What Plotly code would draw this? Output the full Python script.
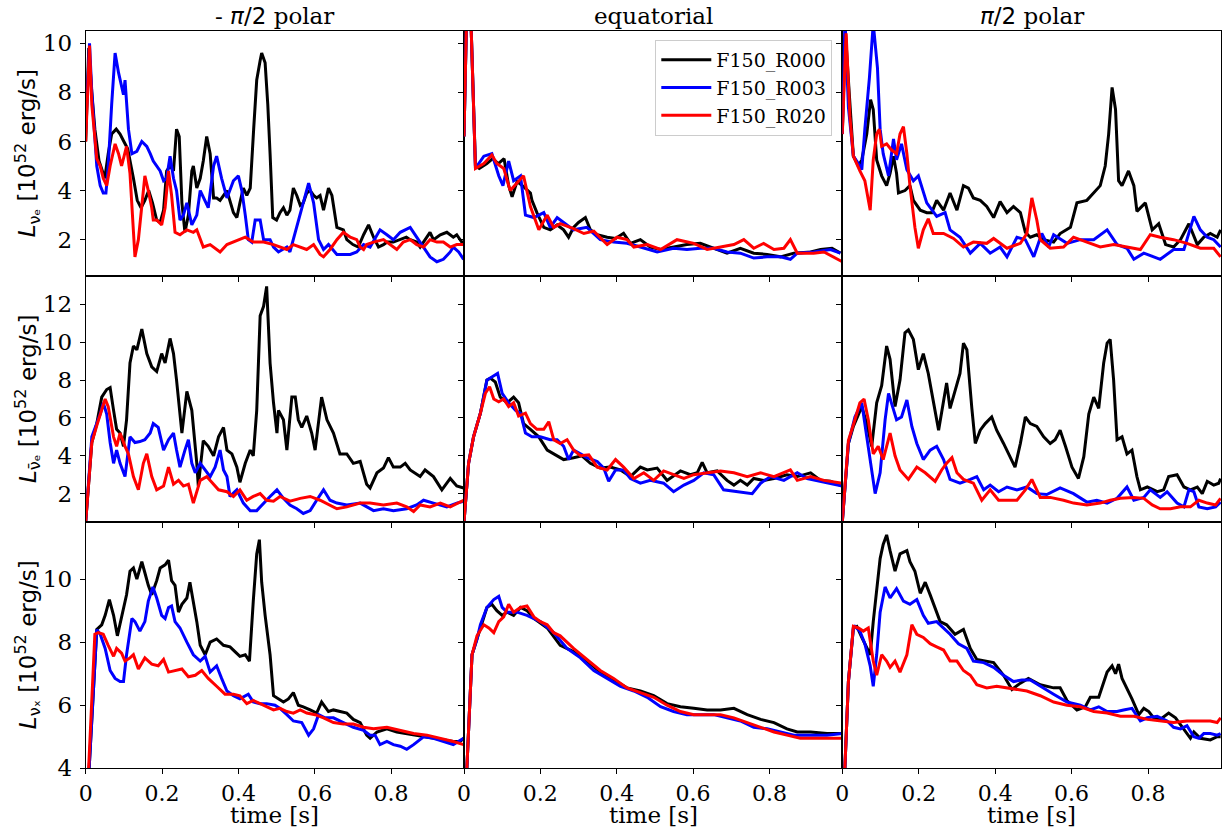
import plotly.graph_objects as go

# ---------------- data: (time [s], luminosity [1e52 erg/s]) ----------------
# Row 1: electron neutrinos
nue_S_R000 = [(0,6.0),(0.008,9.8),(0.016,8.0),(0.024,6.5),(0.035,5.2),(0.05,4.5),(0.059,5.5),(0.068,6.3),(0.08,6.5),(0.09,6.3),(0.1,6.0),(0.11,5.7),(0.125,4.5),(0.135,3.6),(0.145,3.3),(0.155,3.6),(0.165,4.0),(0.175,3.5),(0.186,2.8),(0.195,2.7),(0.204,3.2),(0.212,4.8),(0.221,5.0),(0.23,4.8),(0.238,6.5),(0.245,6.2),(0.252,3.5),(0.26,2.3),(0.269,3.0),(0.278,4.8),(0.282,5.0),(0.291,4.1),(0.3,4.5),(0.308,5.2),(0.317,6.2),(0.326,5.5),(0.335,3.7),(0.343,3.7),(0.352,3.6),(0.37,4.0),(0.387,3.1),(0.396,2.9),(0.404,3.5),(0.413,4.1),(0.422,3.8),(0.431,4.1),(0.44,6.5),(0.448,8.5),(0.457,9.3),(0.461,9.6),(0.47,9.2),(0.477,7.5),(0.483,5.5),(0.49,2.9),(0.5,2.8),(0.509,3.1),(0.518,3.3),(0.527,3.0),(0.535,3.2),(0.544,4.1),(0.553,3.8),(0.562,3.4),(0.57,3.5),(0.579,3.9),(0.588,4.0),(0.597,3.8),(0.605,3.7),(0.614,3.8),(0.623,3.2),(0.636,4.1),(0.645,3.8),(0.658,2.5),(0.675,2.4),(0.684,2.0),(0.7,1.8),(0.714,1.7),(0.728,2.2),(0.741,2.6),(0.754,2.1),(0.767,1.7),(0.78,1.8),(0.79,1.9),(0.806,1.9),(0.824,2.0),(0.84,2.1),(0.85,2.0),(0.867,1.9),(0.876,1.7),(0.89,2.0),(0.902,2.3),(0.911,2.0),(0.929,2.2),(0.946,2.3),(0.963,2.1),(0.972,2.2),(0.985,1.9),(0.99,1.9)]
nue_S_R003 = [(0,6.5),(0.01,10.0),(0.016,8.0),(0.029,5.0),(0.038,4.2),(0.046,3.9),(0.053,3.9),(0.059,5.0),(0.068,7.5),(0.077,9.6),(0.086,8.8),(0.094,8.2),(0.099,7.9),(0.103,8.5),(0.112,6.5),(0.121,5.5),(0.134,5.6),(0.147,6.0),(0.16,5.8),(0.169,5.5),(0.177,5.2),(0.195,4.8),(0.204,4.4),(0.212,4.5),(0.221,5.4),(0.23,4.5),(0.238,4.0),(0.247,2.8),(0.256,3.0),(0.265,3.5),(0.278,2.6),(0.291,3.0),(0.3,4.0),(0.321,3.3),(0.335,5.0),(0.343,5.4),(0.356,4.5),(0.37,3.7),(0.387,4.4),(0.4,4.6),(0.409,4.0),(0.418,3.0),(0.426,2.0),(0.435,1.9),(0.444,2.8),(0.457,2.8),(0.466,2.0),(0.483,2.0),(0.492,1.7),(0.505,1.5),(0.518,1.6),(0.527,1.7),(0.535,1.5),(0.553,2.5),(0.57,3.5),(0.584,4.3),(0.597,3.5),(0.61,2.0),(0.623,1.6),(0.636,1.8),(0.658,1.4),(0.693,1.4),(0.71,1.5),(0.728,1.8),(0.745,1.7),(0.771,2.4),(0.789,2.2),(0.806,2.0),(0.824,2.3),(0.85,2.5),(0.867,2.1),(0.88,1.8),(0.902,1.3),(0.92,1.1),(0.937,1.2),(0.955,1.5),(0.963,1.7),(0.977,1.5),(0.99,1.2)]
nue_S_R020 = [(0,6.0),(0.01,9.9),(0.016,7.5),(0.029,5.3),(0.038,5.0),(0.046,4.5),(0.055,4.2),(0.064,5.0),(0.077,5.9),(0.086,5.5),(0.094,5.0),(0.107,5.8),(0.116,4.7),(0.125,2.0),(0.129,1.3),(0.138,2.0),(0.147,3.5),(0.155,4.6),(0.164,4.0),(0.173,3.3),(0.177,2.8),(0.186,2.8),(0.199,2.6),(0.208,3.3),(0.217,4.8),(0.225,3.8),(0.234,2.3),(0.247,2.2),(0.265,2.4),(0.282,2.3),(0.291,2.4),(0.3,2.0),(0.308,1.7),(0.326,1.8),(0.343,1.6),(0.352,1.5),(0.37,1.8),(0.387,1.9),(0.404,2.0),(0.418,2.1),(0.439,1.9),(0.466,1.9),(0.492,1.8),(0.509,1.7),(0.527,1.6),(0.544,1.8),(0.562,1.7),(0.579,1.6),(0.597,1.8),(0.614,1.4),(0.623,1.3),(0.64,1.6),(0.658,2.0),(0.675,2.3),(0.693,2.1),(0.71,2.0),(0.719,1.7),(0.728,1.6),(0.736,1.8),(0.754,1.9),(0.78,2.0),(0.798,1.8),(0.815,1.6),(0.832,1.9),(0.85,2.0),(0.867,1.8),(0.885,1.7),(0.902,2.0),(0.92,1.9),(0.937,1.9),(0.955,1.7),(0.972,1.8),(0.99,1.8)]

nue_E_R000 = [(0,6.2),(0.008,12.0),(0.018,11.0),(0.025,7.5),(0.03,5.0),(0.04,4.9),(0.06,5.1),(0.075,5.3),(0.09,5.1),(0.105,5.3),(0.117,4.2),(0.126,3.75),(0.139,4.37),(0.156,4.16),(0.174,3.9),(0.178,3.6),(0.191,3.1),(0.209,2.5),(0.226,2.4),(0.244,2.6),(0.261,2.4),(0.274,2.1),(0.287,2.5),(0.3,2.7),(0.318,2.9),(0.331,2.4),(0.349,2.2),(0.375,2.1),(0.397,2.05),(0.418,2.26),(0.436,1.85),(0.462,2.0),(0.488,1.7),(0.515,1.6),(0.549,1.7),(0.584,1.8),(0.619,1.85),(0.654,1.65),(0.689,1.45),(0.724,1.65),(0.759,1.45),(0.794,1.4),(0.829,1.3),(0.864,1.45),(0.908,1.5),(0.934,1.6),(0.964,1.65),(0.986,1.45)]
nue_E_R003 = [(0,6.2),(0.008,12.0),(0.018,11.0),(0.025,7.5),(0.03,4.9),(0.052,5.4),(0.073,5.5),(0.091,4.6),(0.102,4.2),(0.117,5.2),(0.13,4.4),(0.148,4.6),(0.161,3.0),(0.183,2.9),(0.209,3.1),(0.226,2.5),(0.244,2.9),(0.261,2.7),(0.287,2.4),(0.322,2.5),(0.357,2.0),(0.392,1.9),(0.427,1.85),(0.462,1.7),(0.506,1.5),(0.549,1.65),(0.584,1.6),(0.619,1.65),(0.654,1.65),(0.689,1.5),(0.724,1.45),(0.759,1.25),(0.794,1.3),(0.829,1.3),(0.855,1.2),(0.873,1.45),(0.916,1.5),(0.96,1.6),(0.986,1.45)]
nue_E_R020 = [(0,6.2),(0.008,12.0),(0.018,11.0),(0.025,7.5),(0.03,4.9),(0.052,5.1),(0.073,5.45),(0.086,5.1),(0.104,4.9),(0.121,4.0),(0.139,4.3),(0.156,4.6),(0.174,3.35),(0.196,2.4),(0.218,3.0),(0.235,2.5),(0.252,2.65),(0.287,2.45),(0.314,2.25),(0.34,2.35),(0.375,1.8),(0.401,2.1),(0.427,2.0),(0.445,1.7),(0.48,1.8),(0.515,1.6),(0.558,2.0),(0.602,1.85),(0.637,1.6),(0.672,1.7),(0.707,1.8),(0.733,2.0),(0.759,1.65),(0.785,1.85),(0.812,1.6),(0.838,1.65),(0.855,2.0),(0.873,1.45),(0.916,1.45),(0.943,1.5),(0.969,1.3),(0.991,1.1)]

nue_N_R000 = [(0,6.3),(0.008,10.5),(0.018,8.0),(0.029,5.4),(0.042,5.0),(0.051,5.25),(0.064,6.3),(0.074,7.7),(0.081,7.3),(0.09,5.25),(0.103,4.6),(0.116,4.2),(0.125,4.7),(0.134,5.4),(0.142,4.7),(0.147,3.9),(0.164,4.0),(0.177,4.2),(0.186,3.6),(0.204,3.2),(0.221,3.1),(0.234,3.1),(0.247,3.6),(0.265,3.2),(0.282,3.9),(0.3,3.2),(0.317,4.2),(0.33,4.1),(0.343,3.7),(0.361,3.6),(0.378,3.35),(0.396,2.9),(0.413,3.55),(0.431,3.1),(0.448,3.35),(0.466,3.1),(0.479,2.3),(0.492,2.1),(0.509,2.2),(0.527,2.0),(0.553,1.9),(0.57,2.25),(0.597,2.5),(0.614,3.5),(0.64,3.6),(0.658,3.9),(0.675,4.2),(0.688,5.0),(0.697,6.3),(0.706,8.2),(0.715,7.3),(0.723,4.4),(0.732,4.2),(0.749,4.8),(0.763,4.2),(0.771,3.15),(0.793,3.5),(0.811,2.4),(0.828,2.65),(0.846,1.8),(0.867,1.7),(0.885,2.0),(0.907,2.65),(0.929,1.8),(0.946,2.1),(0.963,2.25),(0.981,2.1),(0.99,2.4)]
nue_N_R003 = [(0,6.3),(0.007,11.0),(0.016,7.4),(0.029,5.4),(0.042,5.1),(0.051,4.85),(0.059,6.5),(0.071,8.6),(0.081,10.8),(0.092,9.0),(0.099,6.5),(0.107,5.5),(0.121,4.6),(0.134,6.1),(0.142,5.25),(0.155,5.9),(0.169,4.85),(0.186,4.4),(0.199,4.6),(0.221,3.5),(0.247,2.95),(0.269,3.1),(0.282,2.4),(0.308,2.1),(0.335,1.45),(0.361,1.85),(0.387,1.45),(0.413,1.7),(0.431,1.3),(0.457,2.1),(0.479,2.0),(0.501,1.3),(0.522,2.25),(0.54,1.7),(0.553,2.2),(0.588,1.85),(0.623,2.0),(0.658,2.0),(0.693,2.4),(0.719,1.8),(0.745,1.65),(0.763,1.2),(0.789,1.45),(0.832,1.2),(0.867,1.6),(0.894,1.6),(0.92,2.95),(0.937,2.4),(0.955,2.1),(0.972,2.0),(0.99,1.7)]
nue_N_R020 = [(0,6.3),(0.01,10.4),(0.02,7.0),(0.029,5.4),(0.046,4.8),(0.059,4.4),(0.073,3.2),(0.081,5.25),(0.09,6.3),(0.097,6.5),(0.103,5.8),(0.116,5.9),(0.129,5.65),(0.142,5.5),(0.151,6.3),(0.16,6.6),(0.169,5.5),(0.177,4.2),(0.19,2.5),(0.199,1.65),(0.212,2.4),(0.225,2.85),(0.238,2.25),(0.265,2.25),(0.291,2.05),(0.317,1.7),(0.343,1.9),(0.378,1.85),(0.396,2.05),(0.431,1.65),(0.466,1.85),(0.483,2.25),(0.496,3.7),(0.509,2.8),(0.518,2.0),(0.544,1.65),(0.579,1.7),(0.605,2.1),(0.64,1.9),(0.675,1.7),(0.71,1.8),(0.745,1.7),(0.78,1.6),(0.806,2.2),(0.832,2.1),(0.867,2.0),(0.902,1.85),(0.937,1.65),(0.972,1.65),(0.99,1.3)]

# Row 2: electron antineutrinos
anue_S_R000 = [(0,0.5),(0.011,3.4),(0.016,4.7),(0.029,5.7),(0.042,7.1),(0.055,7.5),(0.064,7.6),(0.073,6.4),(0.081,5.4),(0.09,5.2),(0.099,4.5),(0.107,5.9),(0.116,8.9),(0.125,9.8),(0.134,9.6),(0.147,10.7),(0.16,9.4),(0.173,8.7),(0.186,8.45),(0.199,9.4),(0.208,8.9),(0.221,10.2),(0.23,9.4),(0.238,8.0),(0.252,5.2),(0.265,7.4),(0.278,6.4),(0.291,3.6),(0.295,2.4),(0.308,4.8),(0.321,4.5),(0.335,4.0),(0.348,5.0),(0.361,5.5),(0.37,4.3),(0.383,4.1),(0.396,3.4),(0.404,2.6),(0.418,3.6),(0.431,4.3),(0.439,4.0),(0.448,6.4),(0.457,11.4),(0.466,11.9),(0.474,12.95),(0.483,8.9),(0.492,6.8),(0.501,5.2),(0.505,6.4),(0.518,5.9),(0.527,4.3),(0.54,7.1),(0.549,7.1),(0.557,5.9),(0.566,5.5),(0.579,6.1),(0.592,5.2),(0.601,4.3),(0.618,7.1),(0.632,5.9),(0.649,5.2),(0.666,4.1),(0.684,4.1),(0.701,3.6),(0.719,3.7),(0.736,2.5),(0.745,2.3),(0.763,3.1),(0.78,3.35),(0.793,3.9),(0.806,3.4),(0.824,3.4),(0.837,3.6),(0.85,3.25),(0.876,2.9),(0.889,3.25),(0.911,2.9),(0.933,2.2),(0.955,2.8),(0.972,2.4),(0.99,2.3)]
anue_S_R003 = [(0,0.5),(0.016,5.0),(0.038,6.2),(0.046,6.8),(0.055,6.2),(0.064,4.7),(0.073,3.6),(0.081,4.3),(0.09,3.6),(0.103,2.9),(0.116,5.0),(0.129,4.7),(0.142,4.75),(0.155,4.85),(0.169,5.2),(0.177,5.7),(0.19,5.5),(0.204,4.3),(0.217,4.85),(0.23,5.2),(0.238,4.3),(0.247,3.4),(0.26,4.3),(0.269,4.85),(0.278,3.6),(0.287,3.1),(0.3,3.6),(0.313,3.25),(0.326,2.9),(0.339,3.4),(0.352,4.3),(0.361,3.25),(0.37,2.9),(0.378,1.85),(0.396,2.2),(0.413,1.5),(0.431,1.1),(0.448,1.1),(0.466,1.5),(0.483,1.85),(0.501,2.2),(0.518,1.75),(0.535,1.4),(0.553,1.2),(0.57,0.95),(0.588,1.1),(0.605,1.65),(0.623,2.2),(0.64,1.65),(0.658,1.5),(0.684,1.4),(0.719,1.5),(0.754,1.1),(0.78,1.2),(0.806,1.1),(0.841,1.2),(0.867,1.4),(0.885,1.65),(0.911,1.5),(0.946,1.3),(0.972,1.5),(0.99,1.6)]
anue_S_R020 = [(0,0.5),(0.016,4.7),(0.029,5.6),(0.042,6.4),(0.051,7.0),(0.059,6.6),(0.073,5.0),(0.081,4.5),(0.09,5.2),(0.103,4.5),(0.112,4.1),(0.125,2.9),(0.138,2.2),(0.151,3.6),(0.16,4.1),(0.173,2.9),(0.186,2.2),(0.204,2.4),(0.217,3.4),(0.23,2.5),(0.243,2.7),(0.256,2.4),(0.269,2.5),(0.282,1.5),(0.3,2.7),(0.317,2.9),(0.335,2.5),(0.348,2.2),(0.37,2.1),(0.387,1.85),(0.404,2.2),(0.422,1.65),(0.439,1.85),(0.457,2.0),(0.474,1.65),(0.492,1.6),(0.509,1.85),(0.535,1.6),(0.562,1.75),(0.588,1.85),(0.614,1.65),(0.64,1.4),(0.658,1.2),(0.684,1.3),(0.719,1.5),(0.745,1.5),(0.78,1.4),(0.815,1.5),(0.841,1.3),(0.859,1.05),(0.876,1.4),(0.902,1.3),(0.929,1.5),(0.955,1.3),(0.99,1.65)]

anue_E_R000 = [(0,0.5),(0.012,3.6),(0.025,5.0),(0.043,6.25),(0.06,8.0),(0.069,8.1),(0.082,7.9),(0.095,7.1),(0.113,6.8),(0.13,7.1),(0.143,6.8),(0.156,5.7),(0.174,5.4),(0.196,5.0),(0.218,4.3),(0.244,4.0),(0.261,3.8),(0.287,3.9),(0.309,4.0),(0.331,3.6),(0.357,3.35),(0.383,3.4),(0.41,3.25),(0.436,2.9),(0.462,3.4),(0.48,3.25),(0.506,3.35),(0.532,2.7),(0.567,3.2),(0.593,3.0),(0.611,3.1),(0.624,3.65),(0.637,3.1),(0.663,3.2),(0.689,2.7),(0.707,2.45),(0.724,2.7),(0.742,2.45),(0.759,2.8),(0.785,2.7),(0.812,2.8),(0.846,3.0),(0.873,2.9),(0.908,3.1),(0.934,2.7),(0.96,2.65),(0.991,2.4)]
anue_E_R003 = [(0,0.5),(0.012,3.6),(0.025,5.0),(0.043,6.25),(0.06,8.0),(0.078,8.2),(0.088,8.35),(0.1,7.3),(0.117,6.8),(0.135,6.4),(0.148,6.25),(0.161,5.2),(0.178,5.0),(0.2,5.0),(0.226,4.85),(0.244,4.85),(0.261,4.5),(0.274,3.8),(0.287,4.3),(0.305,4.1),(0.322,3.9),(0.349,3.7),(0.366,3.35),(0.379,2.65),(0.397,3.25),(0.418,3.25),(0.436,2.8),(0.462,2.55),(0.488,2.7),(0.523,2.55),(0.549,2.1),(0.576,2.45),(0.602,2.7),(0.628,3.1),(0.654,3.0),(0.68,2.2),(0.715,2.1),(0.755,2.0),(0.777,2.55),(0.803,2.9),(0.838,2.7),(0.873,3.1),(0.899,2.8),(0.934,2.65),(0.96,2.55),(0.991,2.4)]
anue_E_R020 = [(0,0.5),(0.012,3.6),(0.025,5.0),(0.043,6.25),(0.056,7.3),(0.067,7.65),(0.078,7.0),(0.091,6.85),(0.104,7.0),(0.117,6.6),(0.13,6.8),(0.143,6.1),(0.161,6.25),(0.174,5.7),(0.191,5.4),(0.209,5.4),(0.222,5.8),(0.235,4.85),(0.252,4.65),(0.27,4.85),(0.287,4.3),(0.305,4.0),(0.327,4.05),(0.349,3.4),(0.375,3.25),(0.397,3.8),(0.418,3.4),(0.445,2.8),(0.471,3.1),(0.497,2.7),(0.523,3.2),(0.549,3.0),(0.576,2.8),(0.602,3.0),(0.637,3.1),(0.672,3.2),(0.707,3.1),(0.742,2.9),(0.777,3.1),(0.812,2.9),(0.855,3.25),(0.873,2.7),(0.908,2.9),(0.943,2.7),(0.991,2.55)]

anue_N_R000 = [(0,0.5),(0.016,4.65),(0.029,5.55),(0.051,6.6),(0.064,5.7),(0.077,4.5),(0.09,6.8),(0.103,7.7),(0.116,9.8),(0.125,9.1),(0.138,6.6),(0.151,8.0),(0.164,10.5),(0.173,10.65),(0.186,10.15),(0.199,8.55),(0.212,9.4),(0.225,8.35),(0.238,6.9),(0.252,5.35),(0.265,6.9),(0.273,7.85),(0.282,6.5),(0.295,7.5),(0.308,8.35),(0.317,9.95),(0.326,9.6),(0.339,6.5),(0.348,4.65),(0.361,5.35),(0.374,5.7),(0.391,6.05),(0.404,5.35),(0.422,4.65),(0.439,3.95),(0.452,3.4),(0.466,4.65),(0.479,6.05),(0.492,5.7),(0.509,5.55),(0.527,5.0),(0.544,4.65),(0.557,4.85),(0.57,5.35),(0.584,4.5),(0.601,3.4),(0.618,2.8),(0.632,3.95),(0.645,6.2),(0.658,7.1),(0.671,6.5),(0.684,8.9),(0.693,9.95),(0.701,10.15),(0.71,8.0),(0.719,4.85),(0.732,5.0),(0.745,4.1),(0.758,4.3),(0.771,2.9),(0.78,2.2),(0.798,2.35),(0.824,2.1),(0.841,2.2),(0.854,2.9),(0.876,3.0),(0.894,2.35),(0.911,2.2),(0.929,2.35),(0.942,2.0),(0.955,2.65),(0.972,2.45),(0.985,2.55),(0.99,2.8)]
anue_N_R003 = [(0,0.5),(0.016,4.65),(0.033,6.05),(0.051,6.8),(0.064,5.0),(0.077,3.25),(0.086,2.0),(0.099,3.1),(0.112,5.9),(0.121,7.3),(0.129,6.8),(0.142,5.9),(0.155,6.05),(0.169,6.95),(0.182,5.55),(0.195,4.65),(0.212,3.8),(0.23,4.3),(0.247,4.5),(0.265,3.8),(0.282,2.75),(0.308,2.55),(0.335,2.75),(0.352,2.9),(0.37,2.2),(0.387,2.45),(0.409,2.1),(0.431,2.35),(0.457,2.2),(0.483,2.35),(0.509,2.0),(0.535,1.95),(0.57,2.3),(0.605,2.0),(0.64,1.55),(0.666,1.65),(0.693,1.5),(0.719,1.75),(0.745,2.35),(0.763,1.65),(0.789,1.8),(0.806,2.2),(0.832,1.8),(0.85,2.1),(0.876,1.5),(0.894,1.3),(0.907,2.2),(0.92,2.1),(0.933,1.3),(0.955,1.2),(0.977,1.3),(0.99,1.55)]
anue_N_R020 = [(0,0.5),(0.016,4.8),(0.033,5.9),(0.046,6.8),(0.057,7.0),(0.068,5.9),(0.081,4.1),(0.094,4.5),(0.107,3.8),(0.125,5.2),(0.138,4.0),(0.151,3.25),(0.173,2.75),(0.195,3.4),(0.217,3.1),(0.243,2.65),(0.26,3.25),(0.273,3.6),(0.287,3.9),(0.3,3.1),(0.317,2.75),(0.343,2.55),(0.365,1.65),(0.387,2.2),(0.409,1.65),(0.435,1.65),(0.457,1.65),(0.479,2.2),(0.496,2.75),(0.518,1.8),(0.544,1.8),(0.579,1.65),(0.605,1.5),(0.64,1.4),(0.675,1.5),(0.701,1.65),(0.728,1.75),(0.763,1.8),(0.789,1.75),(0.811,1.4),(0.832,1.2),(0.859,1.2),(0.885,1.3),(0.911,1.3),(0.933,1.65),(0.955,1.5),(0.977,1.4),(0.99,1.75)]

# Row 3: heavy-lepton neutrinos
nux_S_R000 = [(0,2.0),(0.029,8.4),(0.042,8.55),(0.051,8.85),(0.062,9.35),(0.073,8.85),(0.083,8.2),(0.094,8.75),(0.107,9.5),(0.116,10.25),(0.125,10.35),(0.134,10.0),(0.147,10.55),(0.155,10.2),(0.164,9.8),(0.173,9.5),(0.186,9.95),(0.195,10.35),(0.208,10.45),(0.217,10.6),(0.225,9.95),(0.234,9.8),(0.243,8.95),(0.252,9.2),(0.265,9.4),(0.273,9.9),(0.282,9.3),(0.291,8.65),(0.3,7.9),(0.313,7.6),(0.326,8.0),(0.343,8.1),(0.361,7.9),(0.378,7.85),(0.391,7.7),(0.404,7.55),(0.418,7.6),(0.429,7.4),(0.439,9.3),(0.448,10.8),(0.455,11.25),(0.461,9.9),(0.47,8.85),(0.483,7.6),(0.492,6.3),(0.505,6.2),(0.518,6.1),(0.531,6.2),(0.544,6.4),(0.557,6.0),(0.57,5.95),(0.588,5.85),(0.605,5.75),(0.618,6.1),(0.636,5.8),(0.649,5.85),(0.666,5.8),(0.684,5.75),(0.701,5.55),(0.719,5.45),(0.736,5.05),(0.745,4.95),(0.763,5.15),(0.789,5.25),(0.815,5.15),(0.841,5.1),(0.867,5.05),(0.894,5.0),(0.92,4.95),(0.946,4.9),(0.963,4.85),(0.981,4.85),(0.99,4.95)]
nux_S_R003 = [(0,2.0),(0.029,8.4),(0.038,8.25),(0.051,7.8),(0.064,7.1),(0.077,6.85),(0.09,6.75),(0.099,6.75),(0.107,7.6),(0.121,8.75),(0.129,8.65),(0.142,8.35),(0.155,8.65),(0.164,9.3),(0.176,9.75),(0.186,9.4),(0.199,8.85),(0.208,8.75),(0.217,9.1),(0.225,9.15),(0.234,8.65),(0.247,8.45),(0.265,8.0),(0.282,7.6),(0.3,7.4),(0.313,7.55),(0.326,7.05),(0.343,7.25),(0.356,6.85),(0.37,6.45),(0.387,6.3),(0.404,6.2),(0.426,6.35),(0.439,6.1),(0.457,6.05),(0.474,6.05),(0.496,6.0),(0.509,5.9),(0.527,5.7),(0.544,5.5),(0.566,5.45),(0.584,5.05),(0.597,5.25),(0.61,5.7),(0.627,5.6),(0.649,5.6),(0.675,5.45),(0.701,5.3),(0.728,5.2),(0.745,5.05),(0.758,5.05),(0.771,4.75),(0.789,4.85),(0.806,4.75),(0.824,4.7),(0.841,4.6),(0.859,4.75),(0.885,5.0),(0.911,4.95),(0.937,4.85),(0.963,4.75),(0.99,4.95)]
nux_S_R020 = [(0,2.0),(0.024,8.25),(0.033,8.3),(0.046,8.25),(0.059,7.9),(0.073,7.55),(0.081,7.8),(0.094,7.65),(0.103,7.4),(0.116,7.5),(0.125,7.6),(0.138,7.15),(0.155,7.5),(0.173,7.3),(0.19,7.25),(0.204,7.45),(0.217,7.05),(0.234,7.1),(0.252,7.15),(0.269,6.9),(0.287,6.95),(0.304,7.1),(0.321,6.85),(0.343,6.6),(0.365,6.35),(0.387,6.35),(0.404,6.3),(0.422,6.05),(0.439,6.15),(0.457,6.05),(0.474,5.95),(0.492,5.85),(0.509,5.9),(0.527,5.8),(0.544,5.75),(0.562,5.85),(0.579,5.75),(0.601,5.7),(0.623,5.6),(0.649,5.45),(0.675,5.4),(0.701,5.4),(0.728,5.3),(0.754,5.25),(0.789,5.3),(0.824,5.2),(0.859,5.1),(0.894,5.05),(0.929,4.95),(0.963,4.85),(0.99,4.75)]

nux_E_R000 = [(0,2.0),(0.021,7.6),(0.034,8.1),(0.043,8.45),(0.06,9.1),(0.073,9.2),(0.086,9.0),(0.1,8.85),(0.113,8.95),(0.13,8.85),(0.148,9.1),(0.165,9.0),(0.183,8.75),(0.218,8.45),(0.252,7.9),(0.287,7.7),(0.322,7.4),(0.357,7.05),(0.392,6.8),(0.427,6.55),(0.462,6.45),(0.497,6.3),(0.532,6.05),(0.567,5.95),(0.602,5.9),(0.637,5.85),(0.672,5.85),(0.707,5.9),(0.742,5.7),(0.777,5.55),(0.812,5.45),(0.846,5.25),(0.873,5.15),(0.908,5.15),(0.951,5.1),(0.991,5.1)]
nux_E_R003 = [(0,2.0),(0.021,7.6),(0.034,8.1),(0.043,8.55),(0.06,9.1),(0.078,9.35),(0.091,9.45),(0.1,9.1),(0.113,8.95),(0.139,8.95),(0.165,8.85),(0.2,8.65),(0.235,8.3),(0.27,7.8),(0.305,7.5),(0.34,7.1),(0.375,6.85),(0.41,6.6),(0.445,6.45),(0.48,6.25),(0.515,5.95),(0.549,5.8),(0.584,5.7),(0.619,5.7),(0.654,5.7),(0.689,5.6),(0.724,5.5),(0.759,5.3),(0.794,5.25),(0.829,5.15),(0.864,5.05),(0.899,5.05),(0.951,5.05),(0.991,5.1)]
nux_E_R020 = [(0,2.0),(0.021,7.6),(0.034,8.2),(0.052,8.55),(0.065,8.45),(0.078,8.3),(0.091,8.65),(0.104,8.8),(0.117,9.2),(0.13,8.95),(0.148,9.1),(0.165,9.15),(0.183,8.8),(0.2,8.65),(0.218,8.55),(0.235,8.3),(0.252,8.2),(0.27,8.0),(0.287,7.8),(0.322,7.45),(0.357,7.1),(0.392,6.85),(0.427,6.55),(0.462,6.4),(0.497,6.25),(0.532,6.0),(0.567,5.8),(0.602,5.7),(0.637,5.7),(0.672,5.7),(0.707,5.6),(0.742,5.45),(0.777,5.3),(0.812,5.15),(0.846,5.05),(0.881,4.95),(0.916,4.95),(0.951,4.95),(0.991,4.95)]

nux_N_R000 = [(0,2.0),(0.016,6.75),(0.029,8.45),(0.038,8.5),(0.051,8.15),(0.064,7.8),(0.073,7.6),(0.081,8.65),(0.09,9.7),(0.099,10.65),(0.107,11.1),(0.116,11.4),(0.125,10.9),(0.138,10.25),(0.151,10.8),(0.169,10.9),(0.177,10.55),(0.19,10.25),(0.204,9.55),(0.217,9.9),(0.23,9.5),(0.247,8.95),(0.256,8.65),(0.273,8.55),(0.295,8.25),(0.317,8.4),(0.335,7.8),(0.352,7.45),(0.378,7.4),(0.396,7.35),(0.422,6.95),(0.444,6.5),(0.466,6.7),(0.487,6.85),(0.518,6.65),(0.553,6.55),(0.57,6.55),(0.588,6.15),(0.614,5.85),(0.636,5.95),(0.649,6.25),(0.671,6.25),(0.693,7.05),(0.706,7.25),(0.715,7.0),(0.723,7.3),(0.732,6.85),(0.745,6.55),(0.758,6.2),(0.776,5.7),(0.789,5.9),(0.802,5.8),(0.815,5.6),(0.832,5.55),(0.854,5.75),(0.872,5.6),(0.894,5.25),(0.911,4.95),(0.92,5.15),(0.937,4.95),(0.963,4.9),(0.981,5.0),(0.99,5.0)]
nux_N_R003 = [(0,2.0),(0.016,6.75),(0.029,8.45),(0.033,8.5),(0.046,8.35),(0.059,7.95),(0.073,7.25),(0.081,6.6),(0.09,7.6),(0.099,8.95),(0.112,9.75),(0.125,9.4),(0.142,9.7),(0.16,9.3),(0.177,9.2),(0.195,9.35),(0.212,8.85),(0.225,8.6),(0.247,8.65),(0.265,8.45),(0.282,8.25),(0.304,7.95),(0.326,7.8),(0.343,7.4),(0.37,7.35),(0.396,7.2),(0.422,6.95),(0.448,6.75),(0.47,6.8),(0.492,6.8),(0.518,6.6),(0.553,6.35),(0.588,6.1),(0.623,6.0),(0.649,5.85),(0.671,5.95),(0.693,5.8),(0.719,5.8),(0.736,5.85),(0.758,5.9),(0.78,5.5),(0.798,5.6),(0.824,5.65),(0.85,5.5),(0.867,5.3),(0.885,5.25),(0.902,5.35),(0.92,5.0),(0.933,4.95),(0.946,5.1),(0.963,5.1),(0.981,5.05),(0.99,5.1)]
nux_N_R020 = [(0,2.0),(0.016,6.75),(0.029,8.5),(0.042,8.45),(0.055,8.35),(0.068,8.45),(0.081,7.4),(0.09,6.95),(0.103,7.6),(0.116,7.4),(0.125,7.2),(0.138,7.4),(0.151,7.05),(0.169,7.6),(0.182,8.55),(0.195,8.25),(0.212,8.15),(0.23,7.95),(0.247,7.85),(0.265,7.75),(0.282,7.4),(0.3,7.4),(0.317,7.1),(0.335,6.95),(0.352,6.65),(0.378,6.55),(0.404,6.6),(0.431,6.55),(0.457,6.5),(0.483,6.45),(0.518,6.3),(0.553,6.1),(0.588,6.0),(0.623,5.95),(0.658,5.8),(0.693,5.75),(0.728,5.65),(0.763,5.65),(0.798,5.55),(0.832,5.5),(0.867,5.45),(0.902,5.5),(0.937,5.5),(0.963,5.5),(0.981,5.45),(0.99,5.6)]

models = ["F150_R000", "F150_R003", "F150_R020"]
colors = ["#000000", "#0000ff", "#ff0000"]
col_titles = ['- <span style="font-family:DejaVu Sans"><i>π</i>/2</span> polar',
              'equatorial',
              '<span style="font-family:DejaVu Sans"><i>π</i>/2</span> polar']
row_labels = ['<i>L</i><sub>νₑ</sub> [10<sup>52</sup> erg/s]',
              '<i>L</i><sub>ν̄ₑ</sub> [10<sup>52</sup> erg/s]',
              '<i>L</i><sub>νₓ</sub> [10<sup>52</sup> erg/s]']
y_ranges = [[0.52, 10.51], [0.5, 13.5], [3.999, 11.81]]
y_ticks = [[2, 4, 6, 8, 10], [2, 4, 6, 8, 10, 12], [4, 6, 8, 10]]
x_ticks = [0, 0.2, 0.4, 0.6, 0.8]
x_ticklabels = ["0", "0.2", "0.4", "0.6", "0.8"]
x_range = [0, 0.991]

panels = [
    [[nue_S_R000, nue_S_R003, nue_S_R020], [nue_E_R000, nue_E_R003, nue_E_R020], [nue_N_R000, nue_N_R003, nue_N_R020]],
    [[anue_S_R000, anue_S_R003, anue_S_R020], [anue_E_R000, anue_E_R003, anue_E_R020], [anue_N_R000, anue_N_R003, anue_N_R020]],
    [[nux_S_R000, nux_S_R003, nux_S_R020], [nux_E_R000, nux_E_R003, nux_E_R020], [nux_N_R000, nux_N_R003, nux_N_R020]],
]

# ---------------- layout geometry (pixels -> paper) ----------------
W, H = 1225, 829
col_px = [(85.7, 464.0), (464.0, 842.3), (842.3, 1221.0)]
row_px = [(30.7, 276.0), (276.0, 522.0), (522.0, 768.3)]
xdom = [[a / W, b / W] for a, b in col_px]
ydom = [[1 - b / H, 1 - a / H] for a, b in row_px]

SERIF = "DejaVu Serif"
SANS = "DejaVu Sans"

fig = go.Figure()
layout = dict(
    template="none",
    width=W, height=H, autosize=False,
    margin=dict(l=0, r=0, t=0, b=0, pad=0, autoexpand=False),
    paper_bgcolor="white", plot_bgcolor="white",
    showlegend=True,
    legend=dict(x=832.3 / W, y=1 - 40 / H, xanchor="right", yanchor="top",
                bordercolor="#cccccc", borderwidth=1, bgcolor="rgba(255,255,255,0.8)",
                font=dict(family=SERIF, size=19, color="#000000"),
                tracegroupgap=0, itemwidth=50),
)

annotations = []
for r in range(3):
    for c in range(3):
        k = r * 3 + c + 1
        xa = "x" if k == 1 else f"x{k}"
        ya = "y" if k == 1 else f"y{k}"
        for m in range(3):
            pts = panels[r][c][m]
            ts = [p[0] for p in pts]
            vs = [p[1] for p in pts]
            show = (r == 0 and c == 1)
            fig.add_trace(go.Scatter(
                x=ts, y=vs, mode="lines", xaxis=xa, yaxis=ya,
                line=dict(color=colors[m], width=3),
                name=models[m], showlegend=show,
            ))
        layout["xaxis" if k == 1 else f"xaxis{k}"] = dict(
            domain=xdom[c], anchor=ya, range=x_range, automargin=False,
            showline=True, linecolor="black", linewidth=1, mirror=True,
            ticks="outside", ticklen=5, tickcolor="black", tickwidth=1,
            tickvals=x_ticks, ticktext=x_ticklabels,
            showticklabels=(r == 2), showgrid=False, zeroline=False,
            tickfont=dict(family=SERIF, size=22, color="#000000"),
        )
        layout["yaxis" if k == 1 else f"yaxis{k}"] = dict(
            domain=ydom[r], anchor=xa, range=y_ranges[r], automargin=False,
            showline=True, linecolor="black", linewidth=1, mirror=True,
            ticks="outside", ticklen=5, tickcolor="black", tickwidth=1,
            tickvals=y_ticks[r], ticktext=[str(v) for v in y_ticks[r]],
            showticklabels=(c == 0), showgrid=False, zeroline=False,
            tickfont=dict(family=SERIF, size=23, color="#000000"),
            ticklabelstandoff=3,
        )

# column titles and x-axis titles
for c in range(3):
    annotations.append(dict(
        text=col_titles[c], xref="paper", yref="paper",
        x=(xdom[c][0] + xdom[c][1]) / 2, y=ydom[0][1], xanchor="center", yanchor="bottom",
        showarrow=False, font=dict(family=SERIF, size=23, color="#000000"),
    ))
    annotations.append(dict(
        text="time [s]", xref="paper", yref="paper",
        x=(xdom[c][0] + xdom[c][1]) / 2, y=0, xanchor="center", yanchor="bottom",
        showarrow=False, font=dict(family=SERIF, size=23, color="#000000"), borderpad=0,
    ))
# row labels
for r in range(3):
    annotations.append(dict(
        text=row_labels[r], xref="paper", yref="paper",
        x=27 / W, y=(ydom[r][0] + ydom[r][1]) / 2, xanchor="center", yanchor="middle",
        textangle=-90, showarrow=False, font=dict(family=SANS, size=23, color="#000000"),
    ))

layout["annotations"] = annotations
fig.update_layout(**layout)
fig.write_html("out.html")
